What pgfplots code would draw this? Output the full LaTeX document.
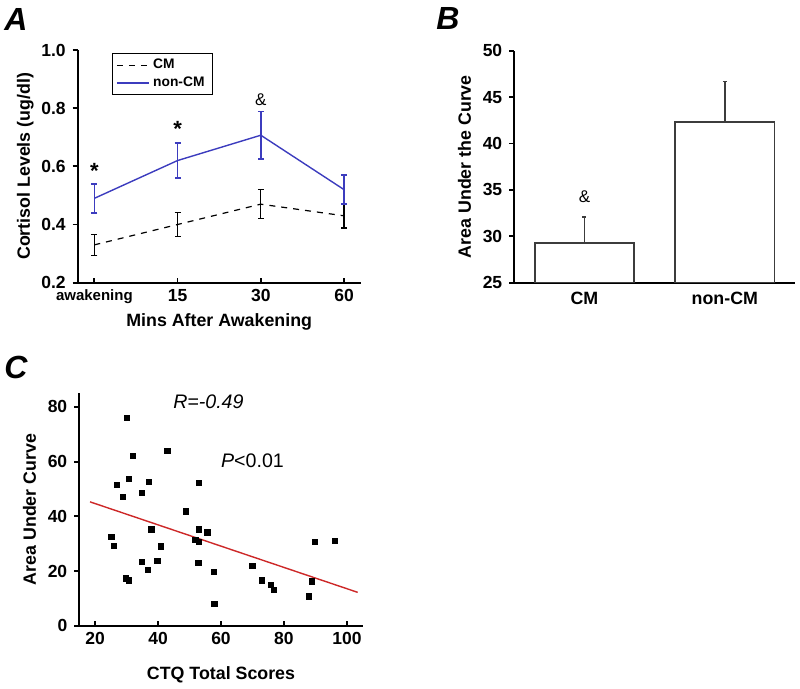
\documentclass[border=0pt]{standalone}
\usepackage{fontspec}
\setmainfont{Liberation Sans}
\usepackage{pgfplots}
\pgfplotsset{compat=1.18}
\definecolor{bluel}{RGB}{60,60,190}
\definecolor{redl}{RGB}{205,40,40}
\definecolor{bargray}{RGB}{60,60,60}
\newcommand{\tickfont}{\bfseries\fontsize{8.75}{10}\selectfont}
\newcommand{\labfont}{\bfseries\fontsize{8.9}{10}\selectfont}
\pgfplotsset{
  common/.style={
    scale only axis,
    axis lines=left,
    axis line style={-, line width=1pt},
    /pgf/number format/assume math mode=true,
    tick style={line width=0.9pt, black},
    major tick length=2.5pt,
    ytick align=outside,
    xtick align=inside,
    tick label style={font=\tickfont},
    label style={font=\labfont},
    clip=false,
  }
}
\begin{document}
\begin{tikzpicture}
\useasboundingbox (0,0) rectangle (400pt,-344.5pt);
% ---------------- Panel A ----------------
\begin{axis}[common,
  at={(38.85pt,-141.35pt)}, anchor=south west,
  width=141.5pt, height=116.35pt,
  xmin=-0.2, xmax=3.2, ymin=0.2, ymax=1.0,
  xtick={0,1,2,3}, xticklabels={{\fontsize{7.5}{9}\selectfont awakening},15,30,60},
  ytick={0.2,0.4,0.6,0.8,1.0},
  yticklabel style={/pgf/number format/.cd, fixed, fixed zerofill, precision=1},
  xlabel={Mins After Awakening},
  ylabel={Cortisol Levels (ug/dl)},
  xlabel style={yshift=2pt},
  ylabel style={yshift=-3pt},
  legend style={at={(0.12,0.988)}, anchor=north west, draw=black, line width=0.5pt,
    font=\bfseries\fontsize{6.9}{8}\selectfont, inner xsep=2pt, inner ysep=1pt,
    row sep=-1pt, nodes={inner sep=1.8pt}},
  legend cell align=left,
  legend image code/.code={\draw[#1] (0pt,0pt) -- (16pt,0pt);},
]
\addplot[black, dashed, line width=0.6pt, mark=none,
  error bars/.cd, y dir=both, y explicit,
  error bar style={solid, line width=0.6pt, black},
  error mark options={rotate=90, mark size=1.5pt, line width=0.6pt, solid, black}]
  coordinates {(0,0.33) +- (0,0.037) (1,0.40) +- (0,0.04) (2,0.47) +- (0,0.05) (3,0.43) +- (0,0.042)};
\addlegendentry{CM}
\addplot[bluel, line width=0.7pt, mark=none,
  error bars/.cd, y dir=both, y explicit,
  error bar style={line width=0.7pt, bluel},
  error mark options={rotate=90, mark size=1.5pt, line width=0.7pt, bluel}]
  coordinates {(0,0.49) +- (0,0.05) (1,0.62) +- (0,0.06) (2,0.707) +- (0,0.082) (3,0.52) +- (0,0.05)};
\addlegendentry{non-CM}
\node[font=\bfseries\fontsize{11}{12}\selectfont] at (axis cs:0,0.583) {*};
\node[font=\bfseries\fontsize{11}{12}\selectfont] at (axis cs:1,0.727) {*};
\node[font=\fontsize{8.5}{10}\selectfont] at (axis cs:2,0.83) {\&};
\end{axis}
% ---------------- Panel B ----------------
\begin{axis}[common,
  at={(257.15pt,-141.35pt)}, anchor=south west,
  width=140.35pt, height=116pt,
  xmin=0.5, xmax=2.5, ymin=25, ymax=50,
  xtick={1,2}, xticklabels={CM,non-CM},
  major x tick style={draw=none},
  xticklabel style={font=\labfont, yshift=-1pt},
  ytick={25,30,35,40,45,50},
  ylabel={Area Under the Curve},
  ylabel style={yshift=-1pt},
]
\addplot[ybar, bar width=0.706, bar shift=0pt, fill=white, draw=bargray, line width=0.8pt,
  error bars/.cd, y dir=plus, y explicit,
  error bar style={line width=0.8pt, bargray},
  error mark options={rotate=90, mark size=1pt, line width=0.8pt, bargray}]
  coordinates {(1,29.3) +- (0,2.8) (2,42.3) +- (0,4.4)};
\node[font=\fontsize{8.5}{10}\selectfont] at (axis cs:1,34.3) {\&};
\end{axis}
% ---------------- Panel C ----------------
\begin{axis}[common,
  at={(39.65pt,-312.85pt)}, anchor=south west,
  width=141.7pt, height=116.2pt,
  xmin=15, xmax=105, ymin=0, ymax=85,
  xtick={20,40,60,80,100}, ytick={0,20,40,60,80},
  xlabel={CTQ Total Scores},
  ylabel={Area Under Curve},
  xlabel style={yshift=-4pt},
  ylabel style={yshift=-1pt},
]
\addplot[only marks, mark=square*, mark size=1.3pt, black] coordinates {
(30.1,76.0) (43.0,63.9) (32.0,62.0) (26.9,51.6) (30.8,53.6) (37.0,52.6)
(28.8,47.2) (34.8,48.7) (53.1,52.2) (48.9,41.8) (25.2,32.4) (26.0,29.3)
(37.9,35.2) (41.0,29.0) (34.8,23.4) (39.8,23.6) (36.7,20.5) (29.9,17.3)
(30.7,16.6) (53.0,35.2) (55.7,34.1) (51.9,31.3) (53.1,30.6) (52.8,23.1)
(57.8,19.6) (57.9,8.0) (70.0,22.0) (73.1,16.6) (75.8,15.0) (76.8,13.2)
(88.9,16.2) (87.9,10.7) (89.9,30.6) (96.1,30.9)};
\addplot[redl, line width=0.7pt, mark=none] coordinates {(18.4,45.3) (103.4,12.2)};
\node[font=\itshape\fontsize{9.8}{11}\selectfont] at (axis cs:56,82) {R=-0.49};
\node[font=\fontsize{9.8}{11}\selectfont] at (axis cs:70,60.5) {\textit{P}<0.01};
\end{axis}
% ---------------- panel letters ----------------
\node[font=\bfseries\itshape\fontsize{16}{18}\selectfont, anchor=center] at (8pt,-9.5pt) {A};
\node[font=\bfseries\itshape\fontsize{16}{18}\selectfont, anchor=center] at (224pt,-9pt) {B};
\node[font=\bfseries\itshape\fontsize{16}{18}\selectfont, anchor=center] at (8pt,-183.5pt) {C};
\end{tikzpicture}
\end{document}
